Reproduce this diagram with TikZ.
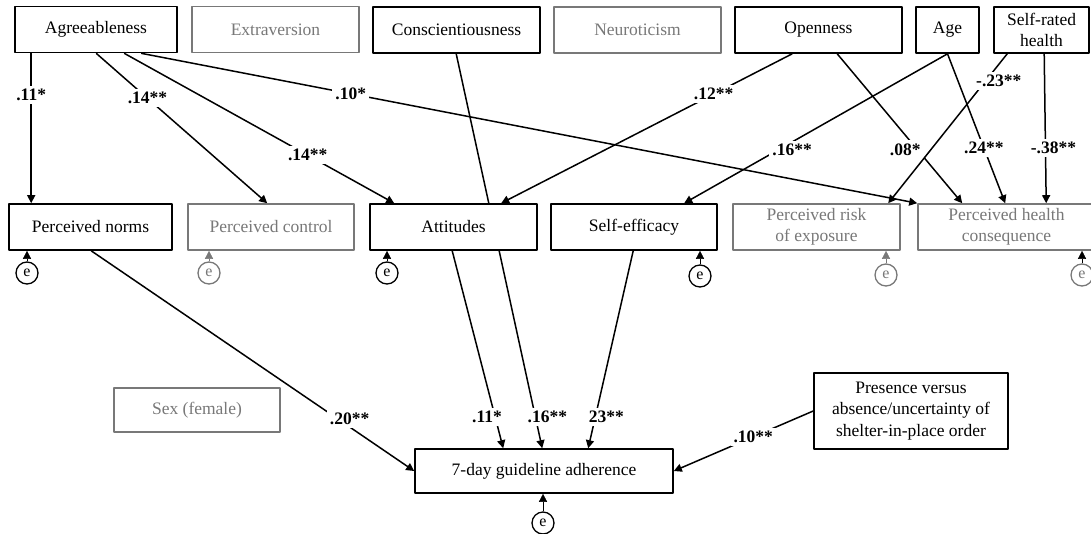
\documentclass[tikz,border=0pt]{standalone}
\usepackage{fontspec}
\setmainfont{Liberation Serif}
\usetikzlibrary{arrows.meta}
\definecolor{faded}{RGB}{120,120,120}
\pgfdeclarelayer{background}
\pgfsetlayers{background,main}
\tikzset{
	box/.style={draw, fill=white, line width=1.6pt, minimum height=46pt, align=center, inner sep=2pt},
	fadedbox/.style={box, draw=faded, text=faded},
	coef/.style={font=\fontsize{17.5}{21.5}\selectfont\bfseries, fill=white, inner sep=3pt},
	errc/.style={circle, draw, fill=white, line width=1.3pt, minimum size=22pt, inner sep=0pt, font=\fontsize{16}{16}\selectfont},
}
\begin{document}
\begin{tikzpicture}[x=1pt, y=-1pt, font=\fontsize{17.5}{21.5}\selectfont, line join=round, line width=1.5pt, >={Triangle[length=8pt,width=8pt]}]
	\useasboundingbox (0,0) rectangle (1091,533);
	% personality, age, health
	\node[box, minimum width=162pt] (agree) at (96,29.5) {Agreeableness};
	\node[fadedbox, minimum width=167pt] (extra) at (275.5,29.5) {Extraversion};
	\node[box, minimum width=167pt] (consc) at (456.5,30) {Conscientiousness};
	\node[fadedbox, minimum width=167pt] (neuro) at (637.5,30) {Neuroticism};
	\node[box, minimum width=167pt] (open) at (818.5,30) {Openness};
	\node[box, minimum width=63pt] (age) at (947.5,30) {Age};
	\node[box, minimum width=95pt] (srh) at (1041.5,30) {Self-rated\\health};
	% mediators
	\node[box, minimum width=163pt] (norms) at (90.5,227) {Perceived norms};
	\node[fadedbox, minimum width=166pt] (control) at (271,227) {Perceived control};
	\node[box, minimum width=167pt] (attitudes) at (453.5,227) {Attitudes};
	\node[box, minimum width=166pt] (selfeff) at (634,227) {Self-efficacy};
	\node[fadedbox, minimum width=167pt] (risk) at (816.5,227) {Perceived risk\\of exposure};
	\node[fadedbox, minimum width=177pt] (health) at (1006.5,227) {Perceived health\\consequence};
	% outcome
	\node[fadedbox, minimum width=166pt, minimum height=44pt] (sex) at (197,410) {Sex (female)};
	\node[box, minimum width=258pt, minimum height=44pt] (adher) at (544,471) {7-day guideline adherence};
	\node[box, minimum width=194pt, minimum height=76pt] (shelter) at (911,411) {Presence versus\\absence/uncertainty of\\shelter-in-place order};
	\begin{pgfonlayer}{background}
	\begin{scope}[line width=1.5pt]
		\draw[->] ([xshift=17pt]agree.south west) -- node[coef, pos=.28] {.11*} ([xshift=23pt]norms.north west);
		\draw[->] ([xshift=82pt]agree.south west) -- node[coef, pos=.30] {.14**} ([xshift=80pt]control.north west);
		\draw[->] ([xshift=110pt]agree.south west) -- node[coef, pos=.68] {.14**} ([xshift=25pt]attitudes.north west);
		\draw[->] ([xshift=127pt]agree.south west) -- node[coef, pos=.27] {.10*} (health.north west);
		% runs behind Attitudes
		\draw[->] ([xshift=84pt]consc.south west) -- node[coef, pos=.92, xshift=12pt] {.16**} ([xshift=128pt]adher.north west);
		\draw[->] ([xshift=58pt]open.south west) -- node[coef, pos=.27] {.12**} ([xshift=132pt]attitudes.north west);
		\draw[->] ([xshift=103pt]open.south west) -- node[coef, pos=.64, xshift=-12pt] {.08*} ([xshift=45pt]health.north west);
		\draw[->] (age.south) -- node[coef, pos=.59, yshift=-8pt] {.16**} ([xshift=134pt]selfeff.north west);
		\draw[->] (age.south) -- node[coef, pos=.63] {.24**} ([xshift=88pt]health.north west);
		\draw[->] ([xshift=14pt]srh.south west) -- node[coef, pos=.18, xshift=13pt] {-.23**} ([xshift=156pt]risk.north west);
		\draw[->] ([xshift=51pt]srh.south west) -- node[coef, pos=.63, xshift=8pt] {-.38**} ([xshift=129pt]health.north west);
		\draw[->] ([xshift=83pt]norms.south west) -- node[coef, pos=.80, yshift=8pt] {.20**} (adher.west);
		\draw[->] ([xshift=83pt]attitudes.south west) -- node[coef, pos=.84, xshift=-8pt] {.11*} ([xshift=89pt]adher.north west);
		\draw[->] ([xshift=83pt]selfeff.south west) -- node[coef, pos=.84, xshift=11pt] {23**} ([xshift=174pt]adher.north west);
		\draw[->] (shelter.west) -- node[coef, pos=.43] {.10**} (adher.east);
	\end{scope}
	\end{pgfonlayer}
	% error terms
	\foreach \b/\x/\y/\c/\a in {norms/27/273/black/black, control/209/273/faded/faded, attitudes/387/273/black/black, selfeff/700/276/black/black, risk/886/275/faded/faded, health/1082/275/faded/black, adher/543/523/black/black}{
		\node[errc, draw=\c, text=\c] (e\b) at (\x,\y) {e};
		\draw[->, \a] (e\b) -- (e\b |- \b.south);
	}
\end{tikzpicture}
\end{document}
